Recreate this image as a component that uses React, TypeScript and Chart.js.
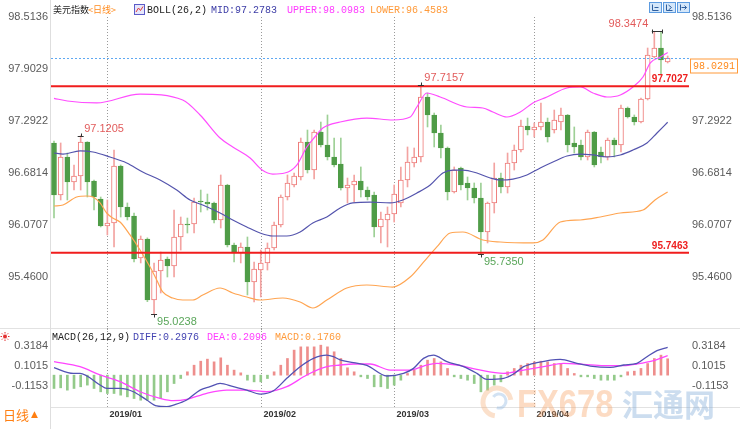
import React, { useEffect, useRef } from 'react';
import { Chart, registerables } from 'chart.js';

Chart.register(...registerables);

// ---------------- data ----------------
const openP = [97.035,96.424,96.870,96.576,96.647,97.046,96.588,96.377,96.059,96.095,
96.764,96.283,96.177,95.683,95.907,95.190,95.531,95.672,95.589,95.930,
96.083,96.083,96.353,96.341,96.330,96.130,96.541,95.836,95.742,95.813,
95.401,95.542,95.625,95.801,96.071,96.400,96.541,96.635,97.046,96.717,
97.164,97.011,96.870,96.788,96.506,96.541,96.588,96.482,96.424,96.048,
96.130,96.200,96.330,96.600,96.800,96.870,97.575,97.364,97.152,96.976,
96.459,96.741,96.565,96.506,96.388,95.989,96.330,96.623,96.518,96.800,
96.952,97.234,97.187,97.223,97.281,97.187,97.281,97.364,97.035,97.011,
96.870,97.164,96.929,96.870,97.070,97.011,97.446,97.340,97.281,97.552,
98.045,98.151,97.986];
const highP = [97.058,97.035,96.917,96.776,97.1205,97.050,96.600,96.400,96.365,96.952,
96.776,96.330,96.212,95.942,95.920,95.625,95.754,95.695,96.247,96.165,
96.153,96.388,96.482,96.435,96.340,96.659,96.550,95.860,95.860,95.930,
95.636,95.777,95.860,96.106,96.424,96.659,96.682,97.093,97.187,97.187,
97.281,97.364,97.093,97.093,96.623,96.659,96.753,96.518,96.459,96.224,
96.283,96.541,96.753,96.988,96.976,97.7157,97.622,97.387,97.246,96.988,
96.753,96.753,96.635,96.565,96.565,96.341,96.800,96.682,96.917,97.011,
97.305,97.328,97.270,97.505,97.328,97.422,97.446,97.370,97.223,97.070,
97.187,97.170,96.988,97.093,97.093,97.481,97.458,97.364,97.563,98.151,
98.3474,98.340,98.057];
const lowP = [96.153,96.365,96.365,96.482,96.482,96.400,96.247,96.048,95.954,95.813,
96.165,96.130,95.636,95.625,95.170,95.0238,95.272,95.460,95.460,95.777,
95.977,95.977,96.224,96.247,96.095,96.036,95.813,95.636,95.625,95.249,
95.166,95.225,95.542,95.777,96.048,96.365,96.518,96.600,96.682,96.612,
96.988,96.835,96.753,96.482,96.330,96.341,96.400,96.365,95.930,95.860,
95.813,96.106,96.283,96.518,96.753,96.811,97.223,96.988,96.858,96.365,
96.447,96.482,96.365,96.330,95.735,95.860,96.212,96.447,96.447,96.717,
96.929,97.129,97.105,97.187,97.046,97.152,97.187,96.929,96.917,96.835,
96.835,96.753,96.800,96.835,96.870,96.929,97.328,97.246,97.270,97.540,
98.033,97.834,97.975];
const closeP = [96.424,96.870,96.576,96.647,97.046,96.576,96.400,96.059,96.095,96.764,
96.283,96.165,95.672,95.907,95.190,95.531,95.660,95.589,95.930,96.083,
96.071,96.341,96.341,96.318,96.130,96.541,95.836,95.742,95.813,95.401,
95.554,95.625,95.801,96.071,96.400,96.565,96.647,97.046,96.717,97.164,
97.011,96.870,96.776,96.506,96.541,96.588,96.482,96.400,96.048,96.142,
96.200,96.435,96.600,96.811,96.870,97.575,97.364,97.152,96.976,96.459,
96.717,96.541,96.506,96.388,95.989,96.330,96.623,96.518,96.800,96.952,
97.234,97.187,97.223,97.281,97.105,97.305,97.364,97.011,96.988,96.870,
97.164,96.776,96.870,97.070,97.011,97.446,97.340,97.281,97.552,98.069,
98.151,98.010,98.0291];

const bollMidIdx = [0,1.35,3.9,5.85,8.4,10.9,13.3,15.9,18.4,20.4,22.3,24.9,26.8,28.9,30.9,32.8,34.9,36.9,38.8,40.9,42.9,44.8,47.4,50.4,52.3,54.4,56.4,58.3,59.8,61.3,63.4,65.4,66.9,68.8,70.9,72.9,74.8,76.9,78.9,80.8,82.9,84.9,86.8,88.9,90.4,92];
const bollMidVal = [96.917,96.905,96.941,96.929,96.870,96.800,96.694,96.600,96.482,96.365,96.306,96.212,96.130,96.048,95.977,95.942,95.942,95.989,96.095,96.165,96.271,96.330,96.341,96.330,96.365,96.447,96.541,96.682,96.717,96.717,96.682,96.623,96.600,96.611,96.659,96.741,96.811,96.882,96.905,96.894,96.870,96.894,96.952,97.035,97.152,97.2783];

const bollUpIdx = [0,2,6.4,12.9,19.3,21.9,24.9,26.8,29.4,31.2,32.8,34.6,36.4,37.9,39.1,40.3,42.9,46.9,50.8,53.4,54.4,55.9,57.9,61.9,64.3,65.8,67.9,69.9,71.8,73.9,76.9,78.9,80.8,82.9,84.9,86.8,88.3,89.4,90.9,92];
const bollUpVal = [97.56,97.528,97.505,97.61,97.540,97.364,97.093,96.988,96.858,96.717,96.670,96.682,96.776,96.988,97.105,97.211,97.281,97.328,97.305,97.340,97.458,97.622,97.575,97.458,97.446,97.399,97.340,97.399,97.505,97.575,97.681,97.693,97.622,97.575,97.599,97.693,97.810,97.975,98.045,98.0983];

const bollLowIdx = [0,1.35,3.4,4.9,5.85,6.9,7.9,8.8,9.9,11.4,12.9,14.4,15.4,16.3,17.8,19.3,20.8,22.3,24.9,26.8,28.9,30.9,34.3,36.9,38.8,40.9,43.9,46.9,50.8,53.4,55.3,57.4,59.4,61.3,64.3,66.9,71.8,73.3,75.9,78.9,81.9,84.9,88.3,90.1,92];
const bollLowVal = [96.294,96.306,96.400,96.412,96.400,96.330,96.212,96.153,96.106,95.954,95.777,95.577,95.425,95.284,95.213,95.190,95.190,95.248,95.331,95.272,95.225,95.190,95.213,95.166,95.096,95.190,95.331,95.366,95.342,95.460,95.625,95.813,95.977,95.989,95.895,95.871,95.860,95.895,96.106,96.130,96.165,96.212,96.247,96.365,96.4583];

const macdHist = [-0.143,-0.136,-0.161,-0.143,-0.125,-0.107,-0.143,-0.179,-0.197,-0.197,
-0.215,-0.233,-0.251,-0.269,-0.269,-0.269,-0.251,-0.179,-0.090,-0.036,
0.036,0.107,0.150,0.172,0.143,0.186,0.107,0.054,0.025,-0.054,
-0.072,-0.072,-0.036,0.036,0.107,0.179,0.269,0.304,0.304,0.304,
0.322,0.304,0.251,0.179,0.079,0.036,-0.018,-0.036,-0.125,-0.125,
-0.143,-0.107,-0.054,0.018,0.054,0.107,0.161,0.179,0.143,0.072,
-0.018,-0.036,-0.054,-0.090,-0.179,-0.161,-0.107,-0.072,0.036,0.072,
0.107,0.125,0.143,0.150,0.143,0.125,0.125,0.072,0.018,-0.018,
-0.018,-0.036,-0.054,-0.054,-0.054,-0.018,0.036,0.043,0.072,0.125,
0.179,0.215,0.176];

const diffIdx = [0,2.9,3.9,6.9,7.9,9.9,11.9,13.9,15.4,16.9,17.9,19.9,21.9,23.4,24.9,26.9,28.9,30.9,32.9,34.9,36.9,38.9,40.9,41.9,42.9,44.9,46.9,49.9,52.4,53.9,55.4,56.9,58.9,61.4,63.4,64.9,67.4,68.9,70.4,72.4,75.9,78.4,80.4,83.4,85.4,87.4,88.9,90.4,92];
const diffVal = [0.080,0.019,0.019,-0.106,-0.142,-0.142,-0.178,-0.267,-0.331,-0.339,-0.321,-0.267,-0.160,-0.124,-0.088,-0.124,-0.160,-0.203,-0.167,-0.034,0.091,0.181,0.216,0.199,0.163,0.134,0.105,-0.009,0.019,0.073,0.180,0.216,0.145,0.091,0.019,-0.045,-0.034,0.012,0.091,0.134,0.170,0.127,0.098,0.084,0.109,0.127,0.198,0.263,0.2976];

const deaIdx = [0,3.9,6.9,9.9,12.9,15.9,17.9,19.9,22.9,25.9,28.9,31.9,34.9,37.9,40.9,42.9,44.9,47.4,50.4,53.4,55.4,57.4,60.4,63.4,67.4,70.4,73.4,76.4,79.4,82.4,85.4,87.4,89.9,92];
const deaVal = [0.145,0.091,0.002,-0.070,-0.178,-0.249,-0.274,-0.260,-0.195,-0.160,-0.160,-0.178,-0.124,0.002,0.091,0.109,0.120,0.120,0.055,0.055,0.098,0.127,0.109,0.062,0.019,0.055,0.091,0.127,0.116,0.102,0.102,0.120,0.156,0.2096];

const monthIdx = [8, 31, 51, 72];
const monthLabels = ['2019/01', '2019/02', '2019/03', '2019/04'];
const mainTicksLeft = [98.5136, 97.9029, 97.2922, 96.6814, 96.0707, 95.46];
const mainTicksRight = [98.5136, 97.2922, 96.6814, 96.0707, 95.46];
const macdTicks = [0.3184, 0.1015, -0.1153];
const levelLines = [97.7027, 95.7463];
const lastPrice = 98.0291;
const extremeIdx = [4, 55, 90, 15, 64];
const extremeVal = [97.1205, 97.7157, 98.3474, 95.0238, 95.735];
const extremeHigh = [true, true, true, false, false];

// ---------------- layout constants ----------------
const X_MIN = -0.45;
const X_MAX = 95.2;
const PAD_L = 51;
const PAD_R = 51;
const MAIN_Y_MIN = 94.8607;
const MAIN_Y_MAX = 98.5975;
const MACD_Y_MIN = -0.342;
const MACD_Y_MAX = 0.485;

const UP_BORDER = '#ee7a78';
const UP_WICK = '#f3a3a1';
const DOWN_FILL = '#4f9c47';
const DOWN_WICK = '#9ed096';
const AXIS_TXT = '#5a5a5a';
const MONO = "'Liberation Mono', 'DejaVu Sans Mono', monospace";
const CJK = "'Noto Sans CJK SC', sans-serif";
const SANS = "'Liberation Sans', Arial, sans-serif";

function txt(ctx: CanvasRenderingContext2D, s: string, x: number, y: number, color: string, font: string, align: CanvasTextAlign = 'left', baseline: CanvasTextBaseline = 'middle') {
  ctx.fillStyle = color;
  ctx.font = font;
  ctx.textAlign = align;
  ctx.textBaseline = baseline;
  ctx.fillText(s, x, y);
}

function hLine(ctx: CanvasRenderingContext2D, x1: number, x2: number, y: number, color: string, w = 1, dash: number[] = []) {
  ctx.save();
  ctx.strokeStyle = color;
  ctx.lineWidth = w;
  ctx.setLineDash(dash);
  ctx.beginPath();
  ctx.moveTo(x1, y);
  ctx.lineTo(x2, y);
  ctx.stroke();
  ctx.restore();
}

function vLine(ctx: CanvasRenderingContext2D, x: number, y1: number, y2: number, color: string, w = 1, dash: number[] = []) {
  ctx.save();
  ctx.strokeStyle = color;
  ctx.lineWidth = w;
  ctx.setLineDash(dash);
  ctx.beginPath();
  ctx.moveTo(x, y1);
  ctx.lineTo(x, y2);
  ctx.stroke();
  ctx.restore();
}

const pts = (xs: number[], ys: number[]) => xs.map((x, k) => ({ x, y: ys[k] }));

const mainPlugin = {
  id: 'mainDeco',
  beforeDatasetsDraw(chart: any) {
    const { ctx, scales } = chart;
    const xs = scales.x;
    ctx.save();
    vLine(ctx, 50.5, 0, 330, '#dedede');
    monthIdx.forEach((i) => {
      const px = Math.round(xs.getPixelForValue(i)) + 0.5;
      vLine(ctx, px, 17, 330, '#9a9a9a', 1, [1, 2]);
    });
    ctx.restore();
  },
  afterDatasetsDraw(chart: any) {
    const { ctx, scales, chartArea } = chart;
    const xs = scales.x;
    const ys = scales.y;
    const L = chartArea.left;
    const R = chartArea.right;
    ctx.save();

    levelLines.forEach((v) => {
      const py = ys.getPixelForValue(v);
      hLine(ctx, L, R, py, '#f01d1d', 2);
      txt(ctx, v.toFixed(4), R - 1, py - 1.5, '#ee1f1f', `bold 10px ${SANS}`, 'right', 'bottom');
    });

    const lp = Math.round(ys.getPixelForValue(lastPrice)) + 0.5;
    hLine(ctx, L, R + 1, lp, '#5ea8f2', 1, [2, 2]);
    ctx.fillStyle = '#ffffff';
    ctx.fillRect(690.5, lp + 0.5, 47, 14);
    ctx.strokeStyle = '#ff9a3a';
    ctx.lineWidth = 1;
    ctx.strokeRect(690.5, lp + 0.5, 47, 14);
    txt(ctx, lastPrice.toFixed(4), 714, lp + 8, '#ff8a1c', `10px ${MONO}`, 'center', 'middle');

    extremeIdx.forEach((idx, k) => {
      const v = extremeVal[k];
      const px = xs.getPixelForValue(idx);
      const py = Math.round(ys.getPixelForValue(v)) + 0.5;
      const high = extremeHigh[k];
      if (k === 2) {
        const p2 = xs.getPixelForValue(idx + 1);
        hLine(ctx, px - 2.5, p2 + 1.5, py, '#333');
        vLine(ctx, Math.round(px - 2.5) + 0.5, py - 2, py + 2, '#333');
        vLine(ctx, Math.round(p2 + 1.5) + 0.5, py - 2, py + 2, '#333');
        txt(ctx, v.toFixed(4), px - 6, py - 2, '#e25b5b', `11px ${SANS}`, 'right', 'bottom');
      } else {
        hLine(ctx, px - 3, px + 3, py, '#333');
        vLine(ctx, Math.round(px) + 0.5, high ? py - 3 : py, high ? py : py + 3, '#333');
        if (high) txt(ctx, v.toFixed(4), px + 3.5, py - 2, '#e25b5b', `11px ${SANS}`, 'left', 'bottom');
        else txt(ctx, v.toFixed(4), px + 3, py + 2, '#5aa65a', `11px ${SANS}`, 'left', 'top');
      }
    });

    mainTicksLeft.forEach((v) => {
      txt(ctx, v.toFixed(4), 48, ys.getPixelForValue(v), AXIS_TXT, `11px ${SANS}`, 'right', 'middle');
    });
    mainTicksRight.forEach((v) => {
      txt(ctx, v.toFixed(4), 692, ys.getPixelForValue(v), AXIS_TXT, `11px ${SANS}`, 'left', 'middle');
    });

    const hy = 10;
    txt(ctx, '美元指数', 53, hy, '#222', `9px ${CJK}`);
    txt(ctx, '<日线>', 88, hy, '#ff8a1c', `9px ${CJK}`);
    ctx.fillStyle = '#e6e6fb';
    ctx.fillRect(134.5, 4.5, 10, 10);
    ctx.strokeStyle = '#5b5bc8';
    ctx.lineWidth = 1;
    ctx.strokeRect(134.5, 4.5, 10, 10);
    ctx.strokeStyle = '#e03a3a';
    ctx.beginPath();
    ctx.moveTo(136, 12); ctx.lineTo(138.5, 8); ctx.lineTo(140.5, 10.5); ctx.lineTo(143, 6.5);
    ctx.stroke();
    txt(ctx, 'BOLL(26,2)', 147, hy, '#222', `10px ${MONO}`);
    txt(ctx, 'MID:97.2783', 211, hy, '#3c3ca6', `10px ${MONO}`);
    txt(ctx, 'UPPER:98.0983', 287, hy, '#ff3cff', `10px ${MONO}`);
    txt(ctx, 'LOWER:96.4583', 370, hy, '#ff9a3a', `10px ${MONO}`);

    [649.5, 663.5, 677.5].forEach((bx, k) => {
      ctx.fillStyle = '#d4e7fa';
      ctx.fillRect(bx, 2.5, 12, 10);
      ctx.strokeStyle = '#5c9be0';
      ctx.strokeRect(bx, 2.5, 12, 10);
      ctx.strokeStyle = '#2f5f9e';
      ctx.beginPath();
      if (k === 0) { ctx.moveTo(bx + 3, 4.5); ctx.lineTo(bx + 3, 10.5); ctx.lineTo(bx + 9, 10.5); ctx.moveTo(bx + 5, 7.5); ctx.lineTo(bx + 9, 7.5); }
      else if (k === 1) { ctx.moveTo(bx + 3, 4.5); ctx.lineTo(bx + 3, 10.5); ctx.lineTo(bx + 9, 10.5); ctx.moveTo(bx + 5, 5); ctx.lineTo(bx + 8, 7.5); ctx.lineTo(bx + 5, 10); }
      else { ctx.moveTo(bx + 3, 4.5); ctx.lineTo(bx + 3, 10.5); ctx.moveTo(bx + 4, 7.5); ctx.lineTo(bx + 9, 7.5); ctx.moveTo(bx + 7, 5.5); ctx.lineTo(bx + 9, 7.5); ctx.lineTo(bx + 7, 9.5); }
      ctx.stroke();
    });
    ctx.restore();
  },
};

const macdPlugin = {
  id: 'macdDeco',
  beforeDatasetsDraw(chart: any) {
    const { ctx, scales } = chart;
    const xs = scales.x;
    ctx.save();
    hLine(ctx, 0, 740, 0.5, '#e2e2e2');
    hLine(ctx, 50, 740, 79.5, '#e2e2e2');
    vLine(ctx, 50.5, 0, 101, '#dedede');
    monthIdx.forEach((i) => {
      const px = Math.round(xs.getPixelForValue(i)) + 0.5;
      vLine(ctx, px, 0, 80, '#9a9a9a', 1, [1, 2]);
    });
    ctx.restore();
  },
  afterDraw(chart: any) {
    const { ctx, scales } = chart;
    const xs = scales.x;
    const ys = scales.y;
    ctx.save();
    macdTicks.forEach((v) => {
      const py = ys.getPixelForValue(v);
      txt(ctx, v.toFixed(4), 48, py, AXIS_TXT, `11px ${SANS}`, 'right', 'middle');
      txt(ctx, v.toFixed(4), 692, py, AXIS_TXT, `11px ${SANS}`, 'left', 'middle');
    });
    monthIdx.forEach((i, k) => {
      const px = Math.round(xs.getPixelForValue(i)) + 2.5;
      txt(ctx, monthLabels[k], px, 87, '#333', `bold 9px ${SANS}`, 'left', 'middle');
    });
    const hy = 9;
    txt(ctx, 'MACD(26,12,9)', 52, hy, '#222', `10px ${MONO}`);
    txt(ctx, 'DIFF:0.2976', 133, hy, '#4444b2', `10px ${MONO}`);
    txt(ctx, 'DEA:0.2096', 207, hy, '#ff3cff', `10px ${MONO}`);
    txt(ctx, 'MACD:0.1760', 275, hy, '#ff9a3a', `10px ${MONO}`);
    ctx.strokeStyle = '#e23030';
    ctx.fillStyle = '#e23030';
    ctx.lineWidth = 1;
    ctx.beginPath();
    ctx.arc(5, 8.5, 2, 0, Math.PI * 2);
    ctx.fill();
    for (let a = 0; a < 8; a++) {
      const ang = (a * Math.PI) / 4;
      ctx.beginPath();
      ctx.moveTo(5 + Math.cos(ang) * 3, 8.5 + Math.sin(ang) * 3);
      ctx.lineTo(5 + Math.cos(ang) * 4.5, 8.5 + Math.sin(ang) * 4.5);
      ctx.stroke();
    }
    txt(ctx, '日线', 3, 87, '#ff7f12', `13px ${CJK}`);
    txt(ctx, '▲', 31, 87, '#ff7f12', `9px 'DejaVu Sans', sans-serif`);
    ctx.globalAlpha = 0.4;
    ctx.lineWidth = 5;
    ctx.strokeStyle = '#f6b27e';
    ctx.beginPath();
    ctx.arc(497, 74, 14, Math.PI * 0.55, Math.PI * 1.95);
    ctx.stroke();
    ctx.strokeStyle = '#8fb6e0';
    ctx.lineWidth = 3;
    ctx.beginPath();
    ctx.arc(499, 73, 7, Math.PI * 1.2, Math.PI * 2.6);
    ctx.stroke();
    ctx.save();
    ctx.translate(517, 89);
    ctx.scale(0.84, 1);
    txt(ctx, 'FX678', 0, 0, '#f7a56a', `bold 39px ${SANS}`, 'left', 'alphabetic');
    ctx.restore();
    txt(ctx, '汇通网', 622, 88, '#7fa9d8', `bold 31px ${CJK}`, 'left', 'alphabetic');
    ctx.restore();
  },
};

function mainConfig(): any {
  const wickColors = closeP.map((c, i) => (c >= openP[i] ? UP_WICK : DOWN_WICK));
  const bodyFill = closeP.map((c, i) => (c >= openP[i] ? '#ffffff' : DOWN_FILL));
  const bodyBorder = closeP.map((c, i) => (c >= openP[i] ? UP_BORDER : DOWN_FILL));
  return {
    type: 'bar',
    data: {
      datasets: [
        {
          type: 'bar',
          label: 'wick',
          data: highP.map((h, i) => ({ x: i, y: [lowP[i], h] })),
          backgroundColor: wickColors,
          borderWidth: 0,
          barThickness: 1,
          grouped: false,
          order: 3,
        },
        {
          type: 'bar',
          label: 'body',
          data: openP.map((o, i) => ({ x: i, y: [Math.min(o, closeP[i]), Math.max(o, closeP[i])] })),
          backgroundColor: bodyFill,
          borderColor: bodyBorder,
          borderWidth: 1,
          borderSkipped: false,
          barThickness: 5,
          minBarLength: 1,
          grouped: false,
          order: 2,
        },
        {
          type: 'line',
          label: 'UPPER',
          data: pts(bollUpIdx, bollUpVal),
          borderColor: '#ff4dff',
          borderWidth: 1.2,
          pointRadius: 0,
          cubicInterpolationMode: 'monotone',
          order: 1,
        },
        {
          type: 'line',
          label: 'MID',
          data: pts(bollMidIdx, bollMidVal),
          borderColor: '#5454ad',
          borderWidth: 1.2,
          pointRadius: 0,
          cubicInterpolationMode: 'monotone',
          order: 1,
        },
        {
          type: 'line',
          label: 'LOWER',
          data: pts(bollLowIdx, bollLowVal),
          borderColor: '#ffa552',
          borderWidth: 1.2,
          pointRadius: 0,
          cubicInterpolationMode: 'monotone',
          order: 1,
        },
      ],
    },
    options: {
      animation: false,
      responsive: false,
      maintainAspectRatio: false,
      devicePixelRatio: 1,
      events: [],
      layout: { padding: { left: PAD_L, right: PAD_R, top: 10, bottom: 2 } },
      plugins: { legend: { display: false }, tooltip: { enabled: false } },
      scales: {
        x: { type: 'linear', min: X_MIN, max: X_MAX, display: false, offset: false },
        y: { type: 'linear', min: MAIN_Y_MIN, max: MAIN_Y_MAX, display: false },
      },
    },
    plugins: [mainPlugin],
  };
}

function macdConfig(): any {
  return {
    type: 'bar',
    data: {
      datasets: [
        {
          type: 'bar',
          label: 'MACD',
          data: macdHist.map((v, i) => ({ x: i, y: v })),
          backgroundColor: macdHist.map((v) => (v >= 0 ? '#ee8e8c' : '#93ca8a')),
          borderWidth: 0,
          barThickness: 2,
          grouped: false,
          order: 2,
        },
        {
          type: 'line',
          label: 'DIFF',
          data: pts(diffIdx, diffVal),
          borderColor: '#5252b4',
          borderWidth: 1.3,
          pointRadius: 0,
          cubicInterpolationMode: 'monotone',
          order: 1,
        },
        {
          type: 'line',
          label: 'DEA',
          data: pts(deaIdx, deaVal),
          borderColor: '#ff45ff',
          borderWidth: 1.3,
          pointRadius: 0,
          cubicInterpolationMode: 'monotone',
          order: 1,
        },
      ],
    },
    options: {
      animation: false,
      responsive: false,
      maintainAspectRatio: false,
      devicePixelRatio: 1,
      events: [],
      layout: { padding: { left: PAD_L, right: PAD_R, top: 2, bottom: 22 } },
      plugins: { legend: { display: false }, tooltip: { enabled: false } },
      scales: {
        x: { type: 'linear', min: X_MIN, max: X_MAX, display: false, offset: false },
        y: { type: 'linear', min: MACD_Y_MIN, max: MACD_Y_MAX, display: false },
      },
    },
    plugins: [macdPlugin],
  };
}

export default function App() {
  const mainRef = useRef<HTMLCanvasElement>(null);
  const macdRef = useRef<HTMLCanvasElement>(null);
  useEffect(() => {
    const c1 = new Chart(mainRef.current as HTMLCanvasElement, mainConfig());
    const c2 = new Chart(macdRef.current as HTMLCanvasElement, macdConfig());
    return () => {
      c1.destroy();
      c2.destroy();
    };
  }, []);
  return (
    <div style={{ position: 'fixed', left: 0, top: 0, width: 740, height: 429, background: '#ffffff', overflow: 'hidden' }}>
      <canvas ref={mainRef} width={740} height={330} style={{ position: 'absolute', left: 0, top: 0, width: 740, height: 330 }} />
      <canvas ref={macdRef} width={740} height={101} style={{ position: 'absolute', left: 0, top: 328, width: 740, height: 101 }} />
    </div>
  );
}
